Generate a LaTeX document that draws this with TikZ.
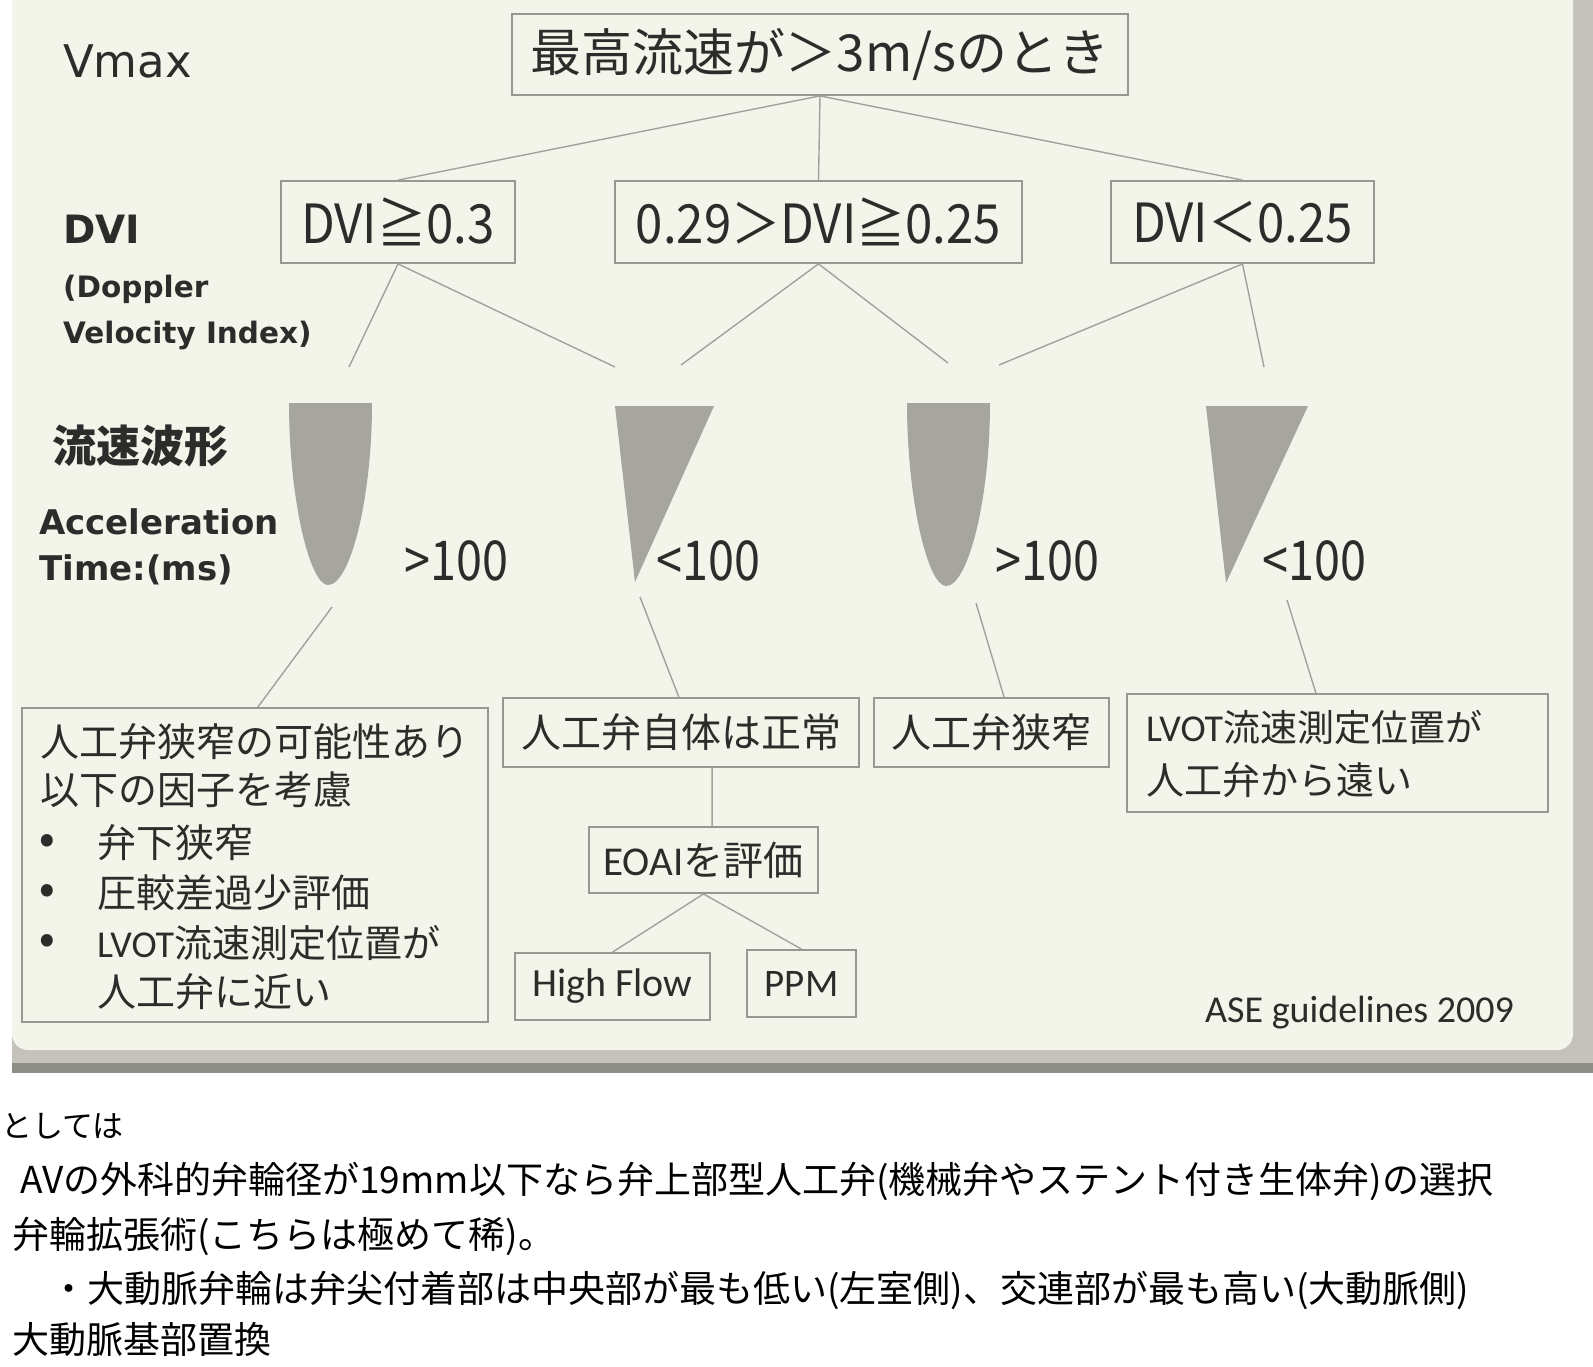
\documentclass[tikz,border=0pt]{standalone}
\usepackage{fontspec}
\setmainfont{Noto Sans CJK JP}
\newfontfamily\jp{Noto Sans CJK JP}
\newfontfamily\jpn[FakeStretch=0.91]{Noto Sans CJK JP}
\newfontfamily\jpt[FakeStretch=0.85]{Noto Sans CJK JP}
\newfontfamily\lat{DejaVu Sans}
\newfontfamily\calfont{Carlito}
\usetikzlibrary{calc}
\definecolor{slidebg}{RGB}{243,245,234}
\definecolor{ink}{RGB}{44,44,42}
\definecolor{boxline}{RGB}{152,152,144}
\definecolor{connline}{RGB}{162,162,154}
\definecolor{wave}{RGB}{166,165,158}
\definecolor{frame}{RGB}{196,194,186}
\definecolor{framedark}{RGB}{142,142,137}
\newcommand{\fs}[1]{\fontsize{#1}{#1}\selectfont}
\begin{document}
\begin{tikzpicture}[x=1pt,y=-1pt,
  box/.style={draw=boxline, line width=1.8pt, fill=slidebg, inner sep=0pt, text=ink},
  conn/.style={draw=connline, line width=1.4pt},
  lbl/.style={text=ink, inner sep=0pt},
  body/.style={text=black, inner sep=0pt, anchor=base west}]
\clip (0,0) rectangle (1593,1366);
\fill[white] (0,0) rectangle (1593,1366);
% slide frame
\fill[frame] (12,0) rectangle (1593,1073);
\fill[framedark] (12,1063) rectangle (1593,1073);
\fill[slidebg, rounded corners=16pt] (12,-30) rectangle (1573,1050);

% left column labels
\node[lbl, anchor=base west] (vmax) at (63,77) {\lat\fs{45}Vmax};
\node[lbl, anchor=base west] (dvi) at (63,243) {\lat\bfseries\fs{39}DVI};
\node[lbl, anchor=base west] (dop1) at (63,297) {\lat\bfseries\fs{29.5}(Doppler};
\node[lbl, anchor=base west] (dop2) at (63,343) {\lat\bfseries\fs{29.5}Velocity Index)};
\node[lbl, anchor=base west] (wav) at (52,462) {\jp\bfseries\fs{44}流速波形};
\node[lbl, anchor=base west] (acc1) at (39,534) {\lat\bfseries\fs{34}Acceleration};
\node[lbl, anchor=base west] (acc2) at (39,580) {\lat\bfseries\fs{34}Time:(ms)};

% top box
\node[box, minimum width=616pt, minimum height=81pt] (top) at (820,54.5) {\jp\fs{51}最高流速が＞3m/sのとき};

% DVI boxes
\node[box, minimum width=234pt, minimum height=82pt] (b1) at (398,222) {\jpn\fs{54}DVI≧0.3};
\node[box, minimum width=407pt, minimum height=82pt] (b2) at (818.5,222) {\jpn\fs{54}0.29＞DVI≧0.25};
\node[box, minimum width=263pt, minimum height=82pt] (b3) at (1242.5,222) {\jpn\fs{54}DVI＜0.25};

\draw[conn] (top.south) -- (b1.north);
\draw[conn] (top.south) -- (b2.north);
\draw[conn] (top.south) -- (b3.north);

\coordinate (e1) at (349,367);
\coordinate (e2) at (615,367);
\coordinate (e3) at (681,365);
\coordinate (e4) at (948,363);
\coordinate (e5) at (999,365);
\coordinate (e6) at (1264,367);
\draw[conn] (b1.south) -- (e1);
\draw[conn] (b1.south) -- (e2);
\draw[conn] (b2.south) -- (e3);
\draw[conn] (b2.south) -- (e4);
\draw[conn] (b3.south) -- (e5);
\draw[conn] (b3.south) -- (e6);

% waveforms
\fill[wave] (289,403) -- (372,403) .. controls (372,500) and (350,585) .. (328,585)
  .. controls (310,585) and (289,500) .. (289,403) -- cycle;
\fill[wave] (615,406) -- (714,406) -- (635,582) -- cycle;
\fill[wave] (907,403) -- (990,403) .. controls (990,500) and (968,586) .. (946,586)
  .. controls (928,586) and (907,500) .. (907,403) -- cycle;
\fill[wave] (1206,406) -- (1308,406) -- (1226,583) -- cycle;

\node[lbl, anchor=base west] (t1) at (404,580) {\jpt\fs{55}>100};
\node[lbl, anchor=base west] (t2) at (656,580) {\jpt\fs{55}<100};
\node[lbl, anchor=base west] (t3) at (995,580) {\jpt\fs{55}>100};
\node[lbl, anchor=base west] (t4) at (1262,580) {\jpt\fs{55}<100};

% bottom boxes
\node[box, minimum width=466pt, minimum height=314pt] (lb) at (255,865) {};
\node[box, minimum width=356pt, minimum height=69pt] (n1) at (681,732.5) {\jp\fs{40}人工弁自体は正常};
\node[box, minimum width=235pt, minimum height=69pt] (n2) at (991.5,732.5) {\jp\fs{40}人工弁狭窄};
\node[box, minimum width=421pt, minimum height=118pt] (n3) at (1337.5,753) {};
\node[box, minimum width=229pt, minimum height=66pt] (eoai) at (703.5,860) {{\calfont\fs{41}EOAI}\jp\fs{40}を評価};
\node[box, minimum width=195pt, minimum height=67pt] (hf) at (612.5,986.5) {\calfont\fs{40}High Flow};
\node[box, minimum width=109pt, minimum height=67pt] (ppm) at (801.5,983.5) {\calfont\fs{39}PPM};

% left box text
\node[lbl, anchor=west] (l1) at (40,742) {\jp\fs{39}人工弁狭窄の可能性あり};
\node[lbl, anchor=west] (l2) at (40,790) {\jp\fs{39}以下の因子を考慮};
\node[lbl] (p1) at (47,843) {\jp\bfseries\fs{39}•};
\node[lbl, anchor=west] (l3) at (97,843) {\jp\fs{39}弁下狭窄};
\node[lbl] (p2) at (47,893) {\jp\bfseries\fs{39}•};
\node[lbl, anchor=west] (l4) at (97,893) {\jp\fs{39}圧較差過少評価};
\node[lbl] (p3) at (47,943) {\jp\bfseries\fs{39}•};
\node[lbl, anchor=west] (l5) at (97,943) {{\calfont\fs{38}LVOT}\jp\fs{38}流速測定位置が};
\node[lbl, anchor=west] (l6) at (97,992) {\jp\fs{39}人工弁に近い};

% right box text
\node[lbl, anchor=west] (r1) at (1146,727) {{\calfont\fs{38}LVOT}\jp\fs{37}流速測定位置が};
\node[lbl, anchor=west] (r2) at (1146,780) {\jp\fs{38}人工弁から遠い};

% connectors from waveforms
\coordinate (w1) at (332,607);
\coordinate (w2) at (640,597);
\coordinate (w3) at (976,603);
\coordinate (w4) at (1287,600);
\draw[conn] (w1) -- ($(lb.north west)!0.506!(lb.north east)$);
\draw[conn] (w2) -- ($(n1.north west)!0.494!(n1.north east)$);
\draw[conn] (w3) -- ($(n2.north west)!0.553!(n2.north east)$);
\draw[conn] (w4) -- ($(n3.north west)!0.449!(n3.north east)$);
\draw[conn] ($(n1.south west)!0.587!(n1.south east)$) -- ($(eoai.north west)!0.537!(eoai.north east)$);
\draw[conn] (eoai.south) -- (hf.north);
\draw[conn] (eoai.south) -- (ppm.north);

\node[lbl, anchor=base west] (ase) at (1205,1022) {\calfont\fs{38}ASE guidelines 2009};

% text below the slide
\node[body] (s1) at (1,1137) {\jp\fs{31}としては};
\node[body] (s2) at (20,1193) {\jp\fs{37}AVの外科的弁輪径が19mm以下なら弁上部型人工弁(機械弁やステント付き生体弁)の選択};
\node[body] (s3) at (12,1248) {\jp\fs{37}弁輪拡張術(こちらは極めて稀)。};
\node[body] (s4) at (50,1302) {\jp\fs{37}・大動脈弁輪は弁尖付着部は中央部が最も低い(左室側)、交連部が最も高い(大動脈側)};
\node[body] (s5) at (12,1353) {\jp\fs{37}大動脈基部置換};
\end{tikzpicture}
\end{document}
